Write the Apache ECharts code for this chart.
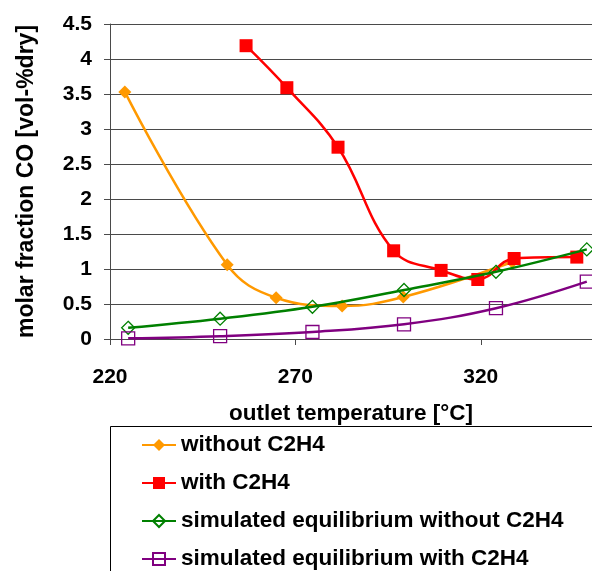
<!DOCTYPE html>
<html>
<head>
<meta charset="utf-8">
<script src="https://cdn.jsdelivr.net/npm/echarts@6/dist/echarts.min.js"></script>
<style>
  html, body { margin: 0; padding: 0; background: #fff; }
  #chart { width: 592px; height: 571px; }
</style>
</head>
<body>
<div id="chart"></div>
<script>
// Outlet temperature [°C] and CO molar fraction [vol-%dry]
const tempWithout = [224.0, 251.6, 264.8, 282.6, 299.1, 328.5];
const coWithout   = [3.53, 1.06, 0.59, 0.47, 0.60, 1.10];

const tempWith = [256.7, 267.7, 281.5, 296.5, 309.3, 319.2, 329.0, 345.9];
const coWith   = [4.19, 3.59, 2.74, 1.26, 0.98, 0.85, 1.15, 1.17];

const tempSim        = [224.9, 249.7, 274.6, 299.3, 324.1, 348.6];
const coSimWithout   = [0.16, 0.29, 0.46, 0.70, 0.96, 1.28];
const coSimWith      = [0.01, 0.04, 0.10, 0.21, 0.44, 0.82];

const xTicks = [220, 270, 320];

const seriesNames = [
  'without C2H4',
  'with C2H4',
  'simulated equilibrium without C2H4',
  'simulated equilibrium with C2H4'
];

const pairs = (xs, ys) => xs.map((x, i) => [x, ys[i]]);

const FONT = 'Arial, "Liberation Sans", sans-serif';
const AXIS_COLOR = '#4a4a4a';

const chart = echarts.init(document.getElementById('chart'), null, { renderer: 'canvas' });

chart.setOption({
  backgroundColor: '#fff',
  animation: false,
  textStyle: { fontFamily: FONT, fontWeight: 'bold', color: '#000' },
  grid: { left: 110, top: 24, width: 486, height: 315 },
  graphic: [{
    type: 'rect',
    left: 108, top: 424,
    shape: { width: 600, height: 200 },
    style: { fill: 'none', stroke: '#000', lineWidth: 1 },
    z: 1
  }],
  legend: {
    orient: 'vertical',
    left: 136, top: 428,
    height: 200,
    itemWidth: 34, itemHeight: 15,
    itemGap: 14,
    data: seriesNames,
    textStyle: { fontFamily: FONT, fontWeight: 'bold', fontSize: 22.5, color: '#000', lineHeight: 24 },
    z: 5
  },
  xAxis: {
    type: 'value',
    min: 220, max: 350,
    name: 'outlet temperature [°C]',
    nameLocation: 'middle',
    nameGap: 63,
    nameTextStyle: { fontFamily: FONT, fontWeight: 'bold', fontSize: 22.5, color: '#000' },
    axisLine: { show: true, onZero: false, lineStyle: { color: AXIS_COLOR, width: 1 } },
    axisTick: { show: true, inside: false, length: 6, customValues: xTicks, lineStyle: { color: AXIS_COLOR } },
    axisLabel: { customValues: xTicks, margin: 28, fontFamily: FONT, fontWeight: 'bold', fontSize: 21, color: '#000' },
    splitLine: { show: false }
  },
  yAxis: {
    type: 'value',
    min: 0, max: 4.5, interval: 0.5,
    name: 'molar fraction CO [vol-%dry]',
    nameLocation: 'middle',
    nameGap: 72,
    nameTextStyle: { fontFamily: FONT, fontWeight: 'bold', fontSize: 23, color: '#000' },
    axisLine: { show: true, lineStyle: { color: AXIS_COLOR, width: 1 } },
    axisTick: { show: true, inside: false, length: 6, lineStyle: { color: AXIS_COLOR } },
    axisLabel: { margin: 18, fontFamily: FONT, fontWeight: 'bold', fontSize: 21, color: '#000' },
    splitLine: { show: true, lineStyle: { color: AXIS_COLOR, width: 1 } }
  },
  series: [
    {
      name: seriesNames[0], type: 'line', smooth: 0.4,
      data: pairs(tempWithout, coWithout),
      symbol: 'diamond', symbolSize: 13,
      lineStyle: { color: '#FF9900', width: 2.5 },
      itemStyle: { color: '#FF9900' },
      z: 3
    },
    {
      name: seriesNames[1], type: 'line', smooth: 0.4,
      data: pairs(tempWith, coWith),
      symbol: 'rect', symbolSize: 13,
      lineStyle: { color: '#FF0000', width: 2.5 },
      itemStyle: { color: '#FF0000' },
      z: 4
    },
    {
      name: seriesNames[2], type: 'line', smooth: 0.4,
      data: pairs(tempSim, coSimWithout),
      symbol: 'diamond', symbolSize: 13,
      lineStyle: { color: '#008000', width: 2.5 },
      itemStyle: { color: 'rgba(0,0,0,0)', borderColor: '#008000', borderWidth: 1.3 },
      z: 5
    },
    {
      name: seriesNames[3], type: 'line', smooth: 0.4,
      data: pairs(tempSim, coSimWith),
      symbol: 'rect', symbolSize: 13,
      lineStyle: { color: '#800080', width: 2.5 },
      itemStyle: { color: 'rgba(0,0,0,0)', borderColor: '#800080', borderWidth: 1.3 },
      z: 5
    }
  ]
});
</script>
</body>
</html>
